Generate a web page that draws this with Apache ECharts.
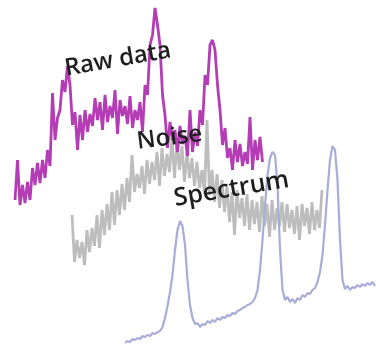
<!DOCTYPE html>
<html>
<head>
<meta charset="utf-8">
<script src="https://cdn.jsdelivr.net/npm/echarts@6/dist/echarts.min.js"></script>
<style>
html,body{margin:0;padding:0;background:#fff;}
#chart{width:376px;height:346px;}
</style>
</head>
<body>
<div id="chart"></div>
<script>
// Series values (arbitrary intensity units)
var rawData = [10,50,5,25,7,28,10,42,25,47,27,50,32,60,44,117,70,92,100,130,118,144,125,85,98,60,95,70,100,78,96,84,112,90,108,80,115,88,104,92,120,76,110,94,104,86,114,82,100,90,108,78,125,115,165,175,202,185,165,115,95,62,88,70,80,58,84,66,74,54,100,58,78,64,100,85,135,125,165,170,160,125,100,65,82,52,62,40,70,48,66,44,58,46,93,40,70,50,73,48];
var noiseData = [55,8,30,12,28,5,40,18,42,24,55,22,60,35,66,40,78,45,80,55,86,60,92,68,115,78,96,82,104,76,110,86,108,90,118,84,122,94,116,98,132,92,128,100,124,88,118,92,112,84,108,82,100,76,150,75,100,68,96,62,90,58,84,48,78,35,80,52,72,44,76,40,70,46,68,38,74,44,66,33,70,40,62,44,68,38,66,42,60,36,64,30,66,44,62,36,68,40,60,42,80];
var spectrumData = [3,5,4,7,6,8,7,10,9,11,10,13,12,14,15,19,28,40,54,71,96,116,125,120,101,66,41,28,22,23,19,22,21,25,23,26,24,28,26,29,28,31,30,33,32,35,36,38,39,41,42,44,48,56,76,106,141,171,188,194,191,161,96,56,46,49,44,47,43,48,46,51,49,53,52,56,58,64,74,91,121,156,186,200,196,166,106,66,57,60,56,59,58,61,59,62,60,63,61,64,60];
var labels = ['Raw data', 'Noise', 'Spectrum'];

function idx(arr){ return arr.map(function(_, i){ return i; }); }

var chart = echarts.init(document.getElementById('chart'), null, {renderer: 'canvas'});
var fam = '"Open Sans", "Noto Sans", sans-serif';
var option = {
  animation: false,
  backgroundColor: '#ffffff',
  grid: [
    {left: 72, top: 0, width: 250, height: 270},
    {left: 15, top: 0, width: 247.5, height: 210},
    {left: 125, top: 0, width: 250, height: 346}
  ],
  xAxis: [
    {type: 'category', gridIndex: 0, data: idx(noiseData), boundaryGap: false, show: false},
    {type: 'category', gridIndex: 1, data: idx(rawData), boundaryGap: false, show: false},
    {type: 'category', gridIndex: 2, data: idx(spectrumData), boundaryGap: false, show: false}
  ],
  yAxis: [
    {type: 'value', gridIndex: 0, min: 0, max: 270, show: false},
    {type: 'value', gridIndex: 1, min: 0, max: 210, show: false},
    {type: 'value', gridIndex: 2, min: 0, max: 346, show: false}
  ],
  series: [
    {name: labels[1], type: 'line', xAxisIndex: 0, yAxisIndex: 0, data: noiseData, showSymbol: false,
     lineStyle: {color: '#bdbdbd', width: 2.8}, itemStyle: {color: '#bdbdbd'}},
    {name: labels[0], type: 'line', xAxisIndex: 1, yAxisIndex: 1, data: rawData, showSymbol: false,
     lineStyle: {color: '#b43db6', width: 2.8}, itemStyle: {color: '#b43db6'}},
    {name: labels[2], type: 'line', xAxisIndex: 2, yAxisIndex: 2, data: spectrumData, showSymbol: false,
     lineStyle: {color: '#a9acd8', width: 2.2}, itemStyle: {color: '#a9acd8'}}
  ],
  graphic: [
    {type: 'text', x: 65, y: 69, rotation: 10 * Math.PI / 180, z: 100,
     style: {text: labels[0], font: '600 24px ' + fam, fill: '#1e1e1e', align: 'left', verticalAlign: 'middle'}},
    {type: 'text', x: 137, y: 142, rotation: 7 * Math.PI / 180, z: 100,
     style: {text: labels[1], font: '600 24px ' + fam, fill: '#1e1e1e', align: 'left', verticalAlign: 'middle'}},
    {type: 'text', x: 174, y: 199, rotation: 9.5 * Math.PI / 180, z: 100,
     style: {text: labels[2], font: '600 25px ' + fam, fill: '#1e1e1e', align: 'left', verticalAlign: 'middle'}}
  ]
};
chart.setOption(option);
</script>
</body>
</html>
